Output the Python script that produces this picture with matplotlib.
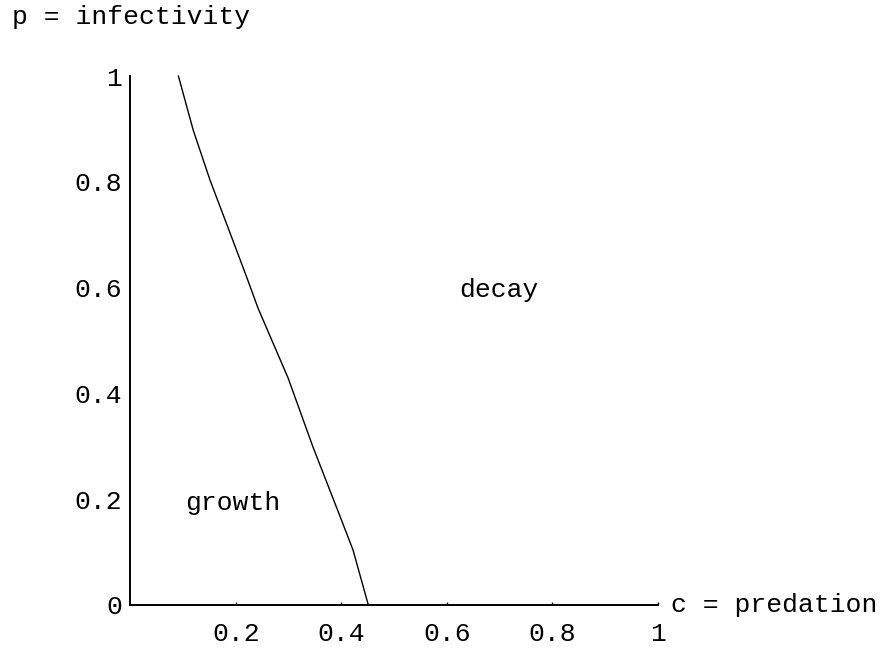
import matplotlib.pyplot as plt

# boundary between growth and decay
c_vals = [0.091, 0.119, 0.151, 0.189, 0.220, 0.242, 0.299, 0.346, 0.398, 0.422, 0.451]
p_vals = [1.0, 0.898, 0.803, 0.703, 0.621, 0.561, 0.429, 0.299, 0.166, 0.104, 0.0]

x_ticks = [0.2, 0.4, 0.6, 0.8, 1.0]
x_labels = ['0.2', '0.4', '0.6', '0.8', '1']
y_ticks = [0.0, 0.2, 0.4, 0.6, 0.8, 1.0]
y_labels = ['0', '0.2', '0.4', '0.6', '0.8', '1']

plt.rcParams['font.family'] = ['Liberation Mono', 'DejaVu Sans Mono']
fs = 19

fig = plt.figure(figsize=(8.81, 6.49), dpi=100)
ax = fig.add_axes([0, 0, 1, 1])
ax.set_xlim(-0.2472, 1.4229)
ax.set_ylim(-0.0832, 1.1437)

ax.plot(c_vals, p_vals, color='black', lw=1.0)

for s in ['top', 'right']:
    ax.spines[s].set_visible(False)
ax.spines['left'].set_position(('data', 0))
ax.spines['bottom'].set_position(('data', 0))
ax.spines['left'].set_bounds(0, 1.0)
ax.spines['bottom'].set_bounds(0, 1.0)
ax.spines['left'].set_linewidth(1.4)
ax.spines['bottom'].set_linewidth(1.4)

ax.set_xticks(x_ticks, x_labels)
ax.set_yticks(y_ticks, y_labels)
ax.tick_params(axis='x', direction='in', length=2.5, width=1, pad=12, labelsize=fs)
ax.tick_params(axis='y', length=0, pad=6, labelsize=fs)

ax.text(1.025, 0.0, 'c = predation', fontsize=fs, ha='left', va='center')
fig.text(12 / 881, 1 - 17 / 649, 'p = infectivity', fontsize=fs, ha='left', va='center')
ax.text(0.699, 0.595, 'decay', fontsize=fs, ha='center', va='center')
ax.text(0.194, 0.193, 'growth', fontsize=fs, ha='center', va='center')

fig.savefig('out.png', dpi=100)
